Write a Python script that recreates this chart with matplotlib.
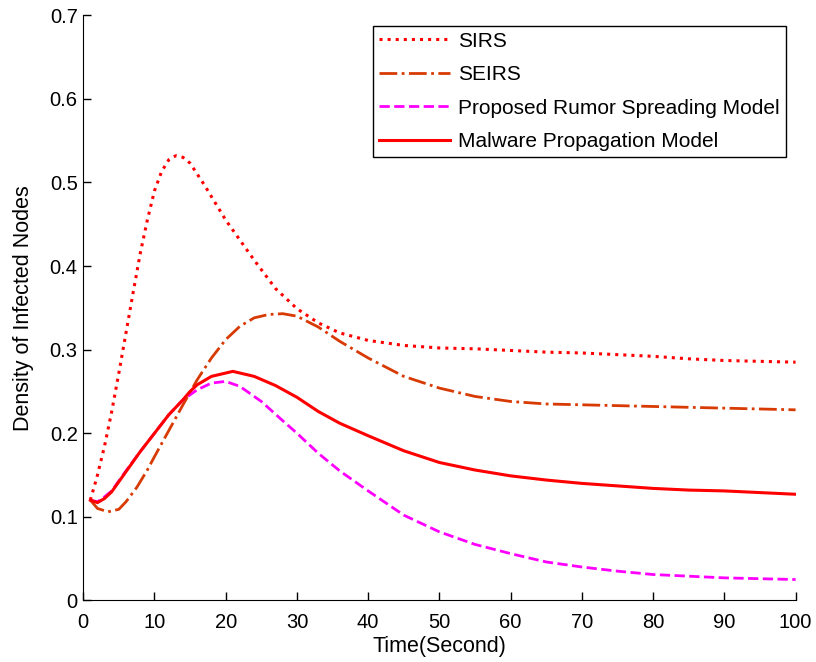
import matplotlib
matplotlib.use('Agg')
import matplotlib.pyplot as plt

plt.rcParams['font.family'] = ['Liberation Sans', 'DejaVu Sans']

# SIRS
sirs_x = [1, 2, 3, 4, 5, 6, 7, 8, 9, 10, 11, 12, 13, 14, 15, 17, 20, 24, 27, 30, 33, 36, 40,
          45, 50, 55, 60, 65, 70, 75, 80, 85, 90, 95, 100]
sirs_y = [0.12, 0.15, 0.185, 0.226, 0.272, 0.32, 0.368, 0.415, 0.455, 0.49, 0.513, 0.527, 0.532,
          0.53, 0.523, 0.497, 0.455, 0.407, 0.373, 0.349, 0.332, 0.32, 0.311,
          0.305, 0.302, 0.301, 0.299, 0.297, 0.296, 0.294, 0.292, 0.289, 0.287, 0.286, 0.285]

# SEIRS
seirs_x = [1, 2, 3.5, 5, 6, 7.5, 9, 10, 12, 14, 16, 18, 20, 22, 24, 26, 28, 30, 33, 36, 40,
           45, 50, 55, 60, 65, 70, 75, 80, 85, 90, 95, 100]
seirs_y = [0.12, 0.11, 0.106, 0.109, 0.118, 0.135, 0.156, 0.172, 0.203, 0.234, 0.264, 0.29, 0.312,
           0.328, 0.338, 0.342, 0.343, 0.34, 0.327, 0.31, 0.29,
           0.268, 0.254, 0.244, 0.238, 0.235, 0.234, 0.233, 0.232, 0.231, 0.23, 0.229, 0.228]

# Proposed Rumor Spreading Model
rumor_x = [1, 2, 3, 4, 6, 8, 10, 12, 14, 16, 18, 20, 22, 25, 28, 30, 33, 36, 40, 45, 50,
           55, 60, 65, 70, 75, 80, 85, 90, 95, 100]
rumor_y = [0.12, 0.118, 0.124, 0.131, 0.155, 0.178, 0.2, 0.222, 0.24, 0.252, 0.26, 0.262, 0.256,
           0.238, 0.215, 0.2, 0.176, 0.155, 0.131, 0.102, 0.082, 0.067, 0.056, 0.046, 0.04,
           0.035, 0.031, 0.029, 0.027, 0.026, 0.025]

# Malware Propagation Model
malware_x = [1, 2, 3, 4, 6, 8, 10, 12, 14, 15, 16, 18, 21, 24, 27, 30, 33, 36, 40, 45, 50,
             55, 60, 65, 70, 75, 80, 85, 90, 95, 100]
malware_y = [0.12, 0.117, 0.122, 0.13, 0.154, 0.178, 0.2, 0.222, 0.24, 0.25, 0.258, 0.268, 0.274,
             0.268, 0.257, 0.243, 0.226, 0.212, 0.197, 0.179, 0.165, 0.156, 0.149, 0.144, 0.140,
             0.137, 0.134, 0.132, 0.131, 0.129, 0.127]

fig = plt.figure(figsize=(8.16, 6.62), dpi=100)
ax = fig.add_axes([0.102, 0.093, 0.873, 0.884])

ax.plot(sirs_x, sirs_y, color='#ff0000', linestyle=':', linewidth=2.2, label='SIRS')
ax.plot(seirs_x, seirs_y, color='#d83a04', linestyle='-.', linewidth=2.0, label='SEIRS')
ax.plot(rumor_x, rumor_y, color='#ff00ff', linestyle='--', linewidth=2.0,
        label='Proposed Rumor Spreading Model')
ax.plot(malware_x, malware_y, color='#ff0000', linestyle='-', linewidth=2.2,
        label='Malware Propagation Model')

ax.set_xlim(0, 100)
ax.set_ylim(0, 0.7)
ax.set_xticks(range(0, 101, 10))
ax.set_yticks([0, 0.1, 0.2, 0.3, 0.4, 0.5, 0.6, 0.7])
ax.set_yticklabels(['0', '0.1', '0.2', '0.3', '0.4', '0.5', '0.6', '0.7'])
ax.tick_params(direction='in', length=5.5, labelsize=14.5, width=1)
ax.tick_params(axis='x', pad=9)
ax.tick_params(axis='y', pad=4)
ax.spines['top'].set_visible(False)
ax.spines['right'].set_visible(False)
ax.set_xlabel('Time(Second)', fontsize=15.5, labelpad=3)
ax.set_ylabel('Density of Infected Nodes', fontsize=15.5, labelpad=11)

leg = ax.legend(loc='upper right', bbox_to_anchor=(0.986, 0.982), borderaxespad=0,
                fontsize=15, handlelength=3.4, handletextpad=0.4, labelspacing=0.7,
                fancybox=False, framealpha=1, borderpad=0.28)
leg.get_frame().set_edgecolor('black')
leg.get_frame().set_linewidth(1)

fig.savefig('out.png', dpi=100)
